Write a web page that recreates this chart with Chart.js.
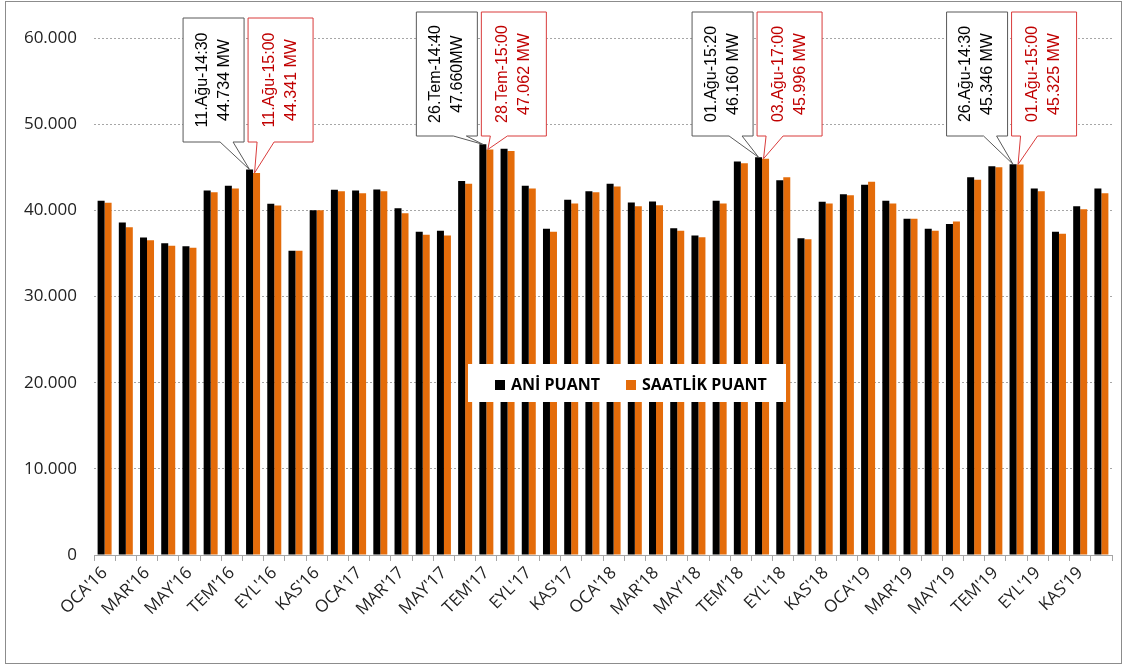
<!DOCTYPE html>
<html>
<head>
<meta charset="utf-8">
<script src="https://cdn.jsdelivr.net/npm/chart.js@4.4.1/dist/chart.umd.min.js"></script>
<style>
  body { margin: 0; background: #fff; }
  #wrap { position: relative; width: 1127px; height: 668px; }
</style>
</head>
<body>
<div id="wrap"><canvas id="peakChart"></canvas></div>
<script>
// months (TR) and years
const monthNames = ["OCA", "ŞUB", "MAR", "NİS", "MAY", "HAZ", "TEM", "AĞU", "EYL", "EKİ", "KAS", "ARA"];
const years = ["16", "17", "18", "19"];

// ANİ PUANT (MW)
const aniPuant = [
  41100, 38590, 36850, 36190, 35840, 42300, 42840, 44734, 40750, 35300, 40020, 42380,
  42300, 42420, 40250, 37510, 37620, 43390, 47660, 47140, 42840, 37850, 41220, 42220,
  43080, 40910, 41030, 37930, 37080, 41100, 45670, 46160, 43500, 36770, 40990, 41880,
  42960, 41100, 39010, 37850, 38400, 43850, 45130, 45346, 42530, 37510, 40480, 42530
];

// SAATLİK PUANT (MW)
const saatlikPuant = [
  40870, 38050, 36540, 35880, 35650, 42110, 42530, 44341, 40560, 35300, 40000, 42220,
  41990, 42220, 39670, 37160, 37080, 43080, 47062, 46900, 42530, 37510, 40790, 42110,
  42770, 40480, 40600, 37620, 36890, 40790, 45470, 45996, 43850, 36650, 40790, 41760,
  43310, 40790, 39010, 37620, 38700, 43540, 45010, 45325, 42220, 37270, 40140, 41990
];

const yTicks = [0, 10000, 20000, 30000, 40000, 50000, 60000];

// yearly peak callouts
const peakIndex = [7, 18, 31, 43];
const aniPeakText = [
  ["11.Ağu-14:30", "44.734 MW"],
  ["26.Tem-14:40", "47.660MW"],
  ["01.Ağu-15:20", "46.160 MW"],
  ["26.Ağu-14:30", "45.346 MW"]
];
const saatlikPeakText = [
  ["11.Ağu-15:00", "44.341 MW"],
  ["28.Tem-15:00", "47.062 MW"],
  ["03.Ağu-17:00", "45.996 MW"],
  ["01.Ağu-15:00", "45.325 MW"]
];

const labels = [];
years.forEach((y) => monthNames.forEach((m) => labels.push(m + "'" + y)));

const fmt = (v) => String(v).replace(/\B(?=(\d{3})+(?!\d))/g, ".");

const AXIS_FONT = "'Open Sans', 'Noto Sans', sans-serif";
const NOTE_FONT = "'Liberation Sans', Arial, sans-serif";

function drawCallout(ctx, box, tip, stroke, textColor, lines) {
  ctx.save();
  ctx.beginPath();
  ctx.moveTo(box.left, box.top);
  ctx.lineTo(box.right, box.top);
  ctx.lineTo(box.right, box.bottom);
  ctx.lineTo(box.baseR, box.bottom);
  ctx.lineTo(tip.x, tip.y);
  ctx.lineTo(box.baseL, box.bottom);
  ctx.lineTo(box.left, box.bottom);
  ctx.closePath();
  ctx.fillStyle = "#fff";
  ctx.fill();
  ctx.lineWidth = 1;
  ctx.strokeStyle = stroke;
  ctx.stroke();

  ctx.translate((box.left + box.right) / 2, (box.top + box.bottom) / 2);
  ctx.rotate(-Math.PI / 2);
  ctx.fillStyle = textColor;
  ctx.font = "16px " + NOTE_FONT;
  ctx.textAlign = "center";
  ctx.textBaseline = "middle";
  ctx.fillText(lines[0], 0, -11);
  ctx.fillText(lines[1], 0, 11);
  ctx.restore();
}

const calloutPlugin = {
  id: "callouts",
  afterDatasetsDraw(chart) {
    const ctx = chart.ctx;
    const ca = chart.chartArea;
    const xs = chart.scales.x;
    const aniMeta = chart.getDatasetMeta(0);
    const satMeta = chart.getDatasetMeta(1);

    peakIndex.forEach((idx, k) => {
      const cx = xs.getPixelForValue(idx);
      const dy = k === 0 ? 6 : 0;
      const top = ca.top - 26 + dy;
      const bottom = ca.top + 98 + dy;
      const aBar = aniMeta.data[idx];
      const sBar = satMeta.data[idx];

      drawCallout(ctx,
        { left: cx - 70, right: cx - 9, top, bottom, baseL: cx - 33, baseR: cx - 20 },
        { x: aBar.x, y: aBar.y },
        "#595959", "#000", aniPeakText[k]);
      drawCallout(ctx,
        { left: cx - 5, right: cx + 60, top, bottom, baseL: cx + 4, baseR: cx + 21 },
        { x: sBar.x - 2, y: sBar.y },
        "#d93b3b", "#c00000", saatlikPeakText[k]);
    });

    // legend box in the middle of the plot
    const lx = ca.left + 374;
    const ly = ca.top + 326;
    ctx.save();
    ctx.fillStyle = "#fff";
    ctx.fillRect(lx, ly, 318, 38);
    ctx.font = "bold 16px " + AXIS_FONT;
    ctx.textBaseline = "middle";
    chart.data.datasets.forEach((ds, i) => {
      const ix = lx + (i === 0 ? 27 : 158);
      ctx.fillStyle = ds.backgroundColor;
      ctx.fillRect(ix, ly + 16, 10, 10);
      ctx.fillStyle = "#000";
      ctx.fillText(ds.label, ix + 16, ly + 21);
    });
    ctx.restore();
  },
  afterDraw(chart) {
    const ctx = chart.ctx;
    ctx.save();
    ctx.strokeStyle = "#8c8c8c";
    ctx.lineWidth = 1;
    ctx.strokeRect(5.5, 1.5, 1116, 662);
    ctx.restore();
  }
};

new Chart(document.getElementById("peakChart"), {
  type: "bar",
  data: {
    labels: labels,
    datasets: [
      {
        label: "ANİ PUANT",
        data: aniPuant,
        backgroundColor: "#000000",
        categoryPercentage: 0.66,
        barPercentage: 1.0,
      },
      {
        label: "SAATLİK PUANT",
        data: saatlikPuant,
        backgroundColor: "#e46c0a",
        categoryPercentage: 0.66,
        barPercentage: 1.0,
      },
    ],
  },
  options: {
    responsive: true,
    maintainAspectRatio: false,
    animation: false,
    layout: { padding: { top: 38, right: 15, left: 0, bottom: 0 } },
    plugins: {
      legend: { display: false },
      tooltip: { enabled: false },
    },
    scales: {
      x: {
        afterFit: (scale) => { scale.height = 113; },
        grid: {
          display: true,
          drawOnChartArea: false,
          drawTicks: true,
          tickLength: 6,
          color: "#a6a6a6",
        },
        border: { display: true, color: "#a6a6a6" },
        ticks: {
          autoSkip: false,
          minRotation: 45,
          maxRotation: 45,
          padding: 2,
          color: "#222",
          font: { family: AXIS_FONT, size: 17 },
          callback: (v, i) => (i % 2 === 0 ? labels[i] : ""),
        },
      },
      y: {
        min: 0,
        max: 60000,
        afterFit: (scale) => { scale.width = 94; },
        afterBuildTicks: (scale) => { scale.ticks = yTicks.map((v) => ({ value: v })); },
        grid: { color: "#a6a6a6", drawTicks: false },
        border: { display: false, dash: [2, 2] },
        ticks: {
          padding: 17,
          color: "#222",
          font: { family: AXIS_FONT, size: 17 },
          callback: (v) => fmt(v),
        },
      },
    },
  },
  plugins: [calloutPlugin],
});
</script>
</body>
</html>
